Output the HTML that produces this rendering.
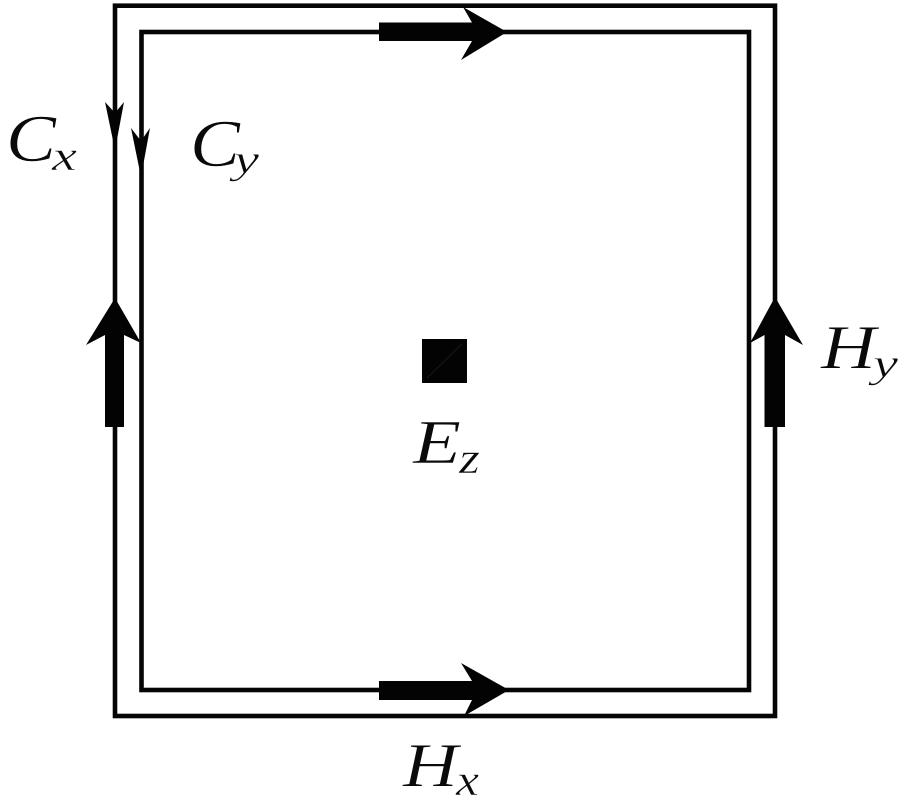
<!DOCTYPE html>
<html><head><meta charset="utf-8"><style>html,body{margin:0;padding:0;background:#fff;width:900px;height:800px;overflow:hidden}svg{display:block}text{font-family:"Liberation Serif",serif;font-style:italic;fill:#0a0a0a;stroke:#fff;stroke-width:.5px}</style></head>
<body>
<svg width="900" height="800" viewBox="0 0 900 800" xmlns="http://www.w3.org/2000/svg">
<rect width="900" height="800" fill="#fff"/>
<rect x="115" y="5.700" width="660" height="710.300" fill="none" stroke="#050505" stroke-width="4.600"/>
<rect x="141.500" y="32" width="607.500" height="658" fill="none" stroke="#050505" stroke-width="4.600"/>
<g fill="#030303">
<path d="M379 22.500H472L463 7L507 32L461 60L472 41H379Z"/>
<path d="M379 681H472L461 663L509 690L464 716L472 700H379Z"/>
<path d="M105 427V335L86 345L115 298L141 343L124 335V427Z"/>
<path d="M764.500 427V335L750 343L775 297L803 345L785 335V427Z"/>
<path d="M105 102L115 113L124 102L115 150Z"/>
<path d="M131 128L141 141L150 128L141 177Z"/>
<rect x="422" y="339" width="45" height="44"/>
</g>
<line x1="427" y1="378" x2="462" y2="344" stroke="#222" stroke-width="0.700"/>
<text x="6" y="161" font-size="67" textLength="50" lengthAdjust="spacingAndGlyphs">C</text>
<text x="52" y="170" font-size="42" textLength="25" lengthAdjust="spacingAndGlyphs">x</text>
<text x="190" y="166" font-size="67" textLength="50" lengthAdjust="spacingAndGlyphs">C</text>
<text x="234" y="173" font-size="40" textLength="25" lengthAdjust="spacingAndGlyphs">y</text>
<text x="821" y="368" font-size="62" textLength="55" lengthAdjust="spacingAndGlyphs">H</text>
<text x="873" y="377" font-size="40" textLength="25" lengthAdjust="spacingAndGlyphs">y</text>
<text x="413" y="463" font-size="62" textLength="48" lengthAdjust="spacingAndGlyphs">E</text>
<text x="459" y="473" font-size="44" textLength="21" lengthAdjust="spacingAndGlyphs">z</text>
<text x="403" y="786" font-size="62" textLength="55" lengthAdjust="spacingAndGlyphs">H</text>
<text x="456" y="795" font-size="44" textLength="23" lengthAdjust="spacingAndGlyphs">x</text>
</svg>
</body></html>
